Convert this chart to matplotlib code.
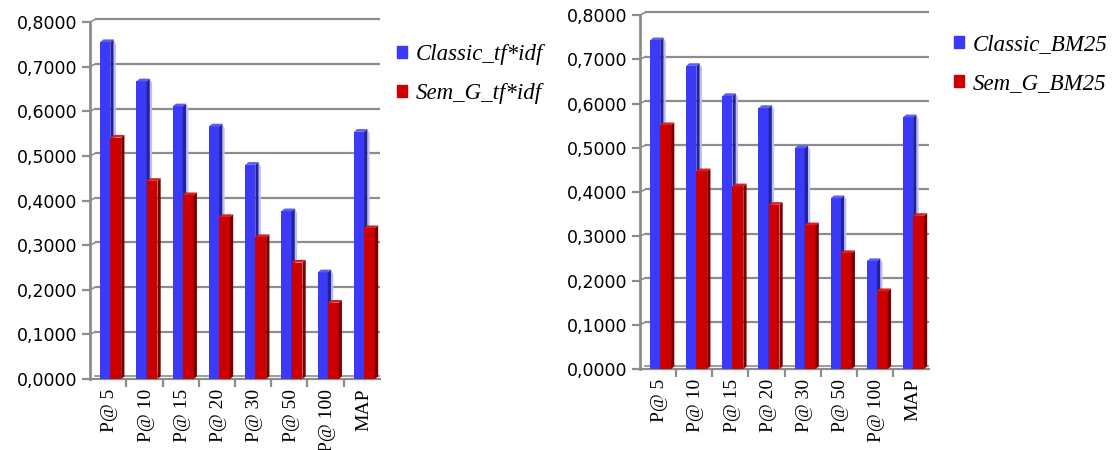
import matplotlib
matplotlib.use("Agg")
import matplotlib.pyplot as plt
from matplotlib.patches import Polygon
import numpy as np

categories = ["P@ 5", "P@ 10", "P@ 15", "P@ 20", "P@ 30", "P@ 50", "P@ 100", "MAP"]

classic_tfidf = [0.755, 0.667, 0.611, 0.566, 0.480, 0.376, 0.239, 0.554]
sem_g_tfidf = [0.541, 0.444, 0.412, 0.363, 0.318, 0.261, 0.171, 0.338]

classic_bm25 = [0.743, 0.685, 0.617, 0.590, 0.499, 0.386, 0.244, 0.569]
sem_g_bm25 = [0.551, 0.447, 0.413, 0.371, 0.325, 0.262, 0.176, 0.346]

y_ticks = [0.0, 0.1, 0.2, 0.3, 0.4, 0.5, 0.6, 0.7, 0.8]

BLUE = ("#3a3af8", "#22229a", "#5a5aff")
RED = ("#cc0000", "#7a0000", "#d82020")
SHADOW = "#bcbcf0"
GRID = "#8c8c8c"


def bar3d(ax, x, w, h, colors, dx=0.09, dy=0.006, shadow=None):
    front, side, top = colors
    if shadow:
        ax.add_patch(Polygon([(x + w + dx, 0), (x + w + 1.7 * dx, 0),
                              (x + w + 1.7 * dx, h - 0.004), (x + w + dx, h + dy)],
                             closed=True, facecolor=shadow, edgecolor="none", zorder=2))
    ax.bar(x, h, width=w, align="edge", color=front, zorder=3, linewidth=0)
    ax.add_patch(Polygon([(x + w, 0), (x + w + dx, dy), (x + w + dx, h + dy), (x + w, h)],
                         closed=True, facecolor=side, edgecolor="none", zorder=3))
    ax.add_patch(Polygon([(x, h), (x + dx, h + dy), (x + w + dx, h + dy), (x + w, h)],
                         closed=True, facecolor=top, edgecolor="none", zorder=3))


def draw_panel(ax, s1, s2):
    n = len(categories)
    ax.set_xlim(0, n)
    ax.set_ylim(0, 0.8)
    for i in range(n):
        bar3d(ax, i + 0.28, 0.28, s1[i], BLUE, shadow=SHADOW)
        bar3d(ax, i + 0.56, 0.30, s2[i], RED)

    # back-wall gridlines
    for t in y_ticks[1:]:
        ax.plot([0.15, n], [t + 0.006, t + 0.006], color=GRID, lw=1.6, zorder=1,
                solid_capstyle="butt", clip_on=False)
        ax.plot([0, 0.15], [t, t + 0.006], color=GRID, lw=1.2, zorder=1, clip_on=False)
    ax.plot([0.15, n], [0.006, 0.006], color=GRID, lw=1.2, zorder=1)

    for side in ("top", "right"):
        ax.spines[side].set_visible(False)
    ax.spines["left"].set_color(GRID)
    ax.spines["left"].set_linewidth(2)
    ax.spines["bottom"].set_color(GRID)
    ax.spines["bottom"].set_linewidth(1.6)

    ax.set_yticks(y_ticks)
    ax.set_yticklabels([f"{v:.4f}".replace(".", ",") for v in y_ticks],
                       fontsize=12.5, family="DejaVu Sans")
    ax.tick_params(axis="y", length=6, width=1.6, color=GRID, pad=3)

    ax.set_xticks(np.arange(1, n))
    ax.set_xticklabels([])
    ax.tick_params(axis="x", which="major", length=6, width=1.6, color=GRID)
    ax.set_xticks(np.arange(n) + 0.55, minor=True)
    ax.set_xticklabels(categories, minor=True, rotation=90, fontsize=14,
                       family="Liberation Serif", va="top")
    ax.tick_params(axis="x", which="minor", length=0, pad=7)

    handles = [plt.Rectangle((0, 0), 1, 1, color=BLUE[0]),
               plt.Rectangle((0, 0), 1, 1, color=RED[0])]
    return handles


legend_font = {"family": "Liberation Serif", "style": "italic", "size": 16.5}
legend_kw = dict(frameon=False, prop=legend_font, handlelength=0.45, handleheight=0.45,
                 handletextpad=0.35, labelspacing=0.8, borderpad=0.2)

fig = plt.figure(figsize=(11.13, 4.5), dpi=100)

ax1 = fig.add_axes([90 / 1113, (450 - 379) / 450, 290 / 1113, 357 / 450])
h1 = draw_panel(ax1, classic_tfidf, sem_g_tfidf)
fig.legend(h1, ["Classic_tf*idf", "Sem_G_tf*idf"], loc="upper left",
           bbox_to_anchor=(381 / 1113, 1 - 28 / 450), **legend_kw)

ax2 = fig.add_axes([640 / 1113, (450 - 369) / 450, 289 / 1113, 354 / 450])
h2 = draw_panel(ax2, classic_bm25, sem_g_bm25)
fig.legend(h2, ["Classic_BM25", "Sem_G_BM25"], loc="upper left",
           bbox_to_anchor=(938 / 1113, 1 - 18 / 450), **legend_kw)

fig.savefig("out.png", dpi=100)
